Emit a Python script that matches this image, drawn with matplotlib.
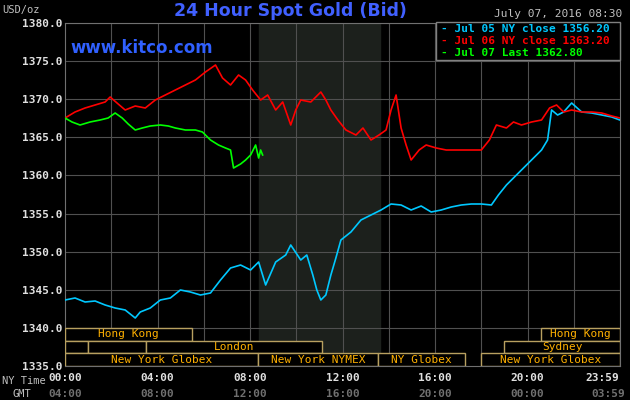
import matplotlib
matplotlib.use("Agg")
import matplotlib.pyplot as plt
from matplotlib.patches import Rectangle

def hx(px): return (px - 65) / 23.05
def vy(py): return 1380 - (py - 23) * 45 / 343

# series (pixel estimates converted to hours / price)
blue_px = [(65,300),(75,298),(85,302),(95,301),(105,305),(115,308),(125,310),(135,318),(140,312),(150,308),(160,300),(170,298),(180,290),(190,292),(200,295),(210,293),(220,280),(230,268),(240,265),(250,270),(258,262),(265,285),(275,262),(285,255),(290,245),(300,260),(306,255),(312,275),(316,290),(320,300),(325,295),(330,275),(335,258),(340,240),(350,232),(360,220),(370,215),(380,210),(390,204),(400,205),(410,210),(420,206),(430,212),(440,210),(450,207),(460,205),(470,204),(480,204),(490,205),(497,195),(505,185),(512,178),(520,170),(530,160),(540,150),(546,140),(550,110),(556,115),(562,112),(570,103),(580,112),(590,113),(600,115),(610,117),(618,120)]
red_px = [(65,118),(75,112),(85,108),(95,105),(105,102),(110,97),(118,104),(125,110),(135,106),(145,108),(155,100),(165,95),(175,90),(185,85),(195,80),(205,72),(215,65),(222,78),(230,85),(238,75),(245,80),(252,90),(260,100),(267,95),(275,110),(282,102),(290,125),(295,110),(300,100),(310,102),(320,92),(325,100),(330,110),(337,120),(345,130),(355,135),(362,128),(370,140),(378,135),(385,130),(390,110),(395,95),(400,128),(405,145),(410,160),(418,150),(425,145),(435,148),(445,150),(455,150),(465,150),(480,150),(488,140),(495,125),(505,128),(512,122),(520,125),(530,122),(540,120),(548,108),(555,105),(562,112),(570,110),(580,112),(590,112),(600,113),(610,116),(618,118)]
green_px = [(65,118),(72,122),(80,125),(90,122),(100,120),(108,118),(115,113),(122,118),(128,124),(135,130),(142,128),(150,126),(160,125),(168,126),(175,128),(185,130),(195,130),(202,132),(210,140),(218,145),(225,148),(230,150),(233,168),(240,164),(245,160),(250,155),(255,145),(258,158),(260,150),(262,155)]

blue_h = [hx(p[0]) for p in blue_px]; blue_v = [vy(p[1]) for p in blue_px]
red_h = [hx(p[0]) for p in red_px]; red_v = [vy(p[1]) for p in red_px]
green_h = [hx(p[0]) for p in green_px]; green_v = [vy(p[1]) for p in green_px]

yticks = [1335 + 5 * i for i in range(10)]
xticks = [0, 4, 8, 12, 16, 20, 23.98]
ny_labels = ["00:00", "04:00", "08:00", "12:00", "16:00", "20:00", "23:59"]
gmt_labels = ["04:00", "08:00", "12:00", "16:00", "20:00", "00:00", "03:59"]

# sessions: (row, start, end, label)
sessions = [(0, 0, 5.5, "Hong Kong"), (0, 20.6, 24, "Hong Kong"),
            (1, 0, 1.0, ""), (1, 1.0, 3.5, ""), (1, 3.5, 11.1, "London"), (1, 19.0, 24, "Sydney"),
            (2, 0, 8.35, "New York Globex"), (2, 8.35, 13.55, "New York NYMEX"),
            (2, 13.55, 17.3, "NY Globex"), (2, 18.0, 24, "New York Globex")]

mono = "DejaVu Sans Mono"
fig = plt.figure(figsize=(6.3, 4.0), dpi=100, facecolor="black")
ax = fig.add_axes([65/630, 34/400, 555/630, 343/400], facecolor="black")
ax.set_xlim(0, 24); ax.set_ylim(1335, 1380)
ax.axvspan(8.4, 13.6, color="#1c201c", zorder=0)
for h in range(2, 24, 2):
    ax.axvline(h, color="#505050", lw=0.8, zorder=1)
for v in yticks[1:]:
    ax.axhline(v, color="#505050", lw=0.8, zorder=1)
ax.plot(blue_h, blue_v, color="#00c8ff", lw=1.2, zorder=3)
ax.plot(red_h, red_v, color="#ff0000", lw=1.2, zorder=3)
ax.plot(green_h, green_v, color="#00ff00", lw=1.2, zorder=4)

rh = 5 / 3
for row, s, e, lab in sessions:
    y0 = 1340 - (row + 1) * rh
    ax.add_patch(Rectangle((s, y0), e - s, rh, facecolor="black", edgecolor="#b8a060", lw=1, zorder=5))
    if lab:
        ax.text((s + e) / 2, y0 + rh / 2, lab, color="#ffb000", ha="center", va="center",
                fontsize=8, family=mono, zorder=6)

for sp in ax.spines.values():
    sp.set_color("#707070")
ax.set_yticks(yticks)
ax.set_yticklabels([f"{v:.1f}" for v in yticks], color="#e0e0e0", fontsize=8, family=mono, fontweight="bold")
ax.set_xticks(xticks)
ax.set_xticklabels(ny_labels, color="#e0e0e0", fontsize=8, family=mono, fontweight="bold")
ax.get_xticklabels()[-1].set_ha("right")
ax.get_xticklabels()[-1].set_x(24.2)
ax.tick_params(axis="x", length=0, pad=5)
ax.tick_params(axis="y", length=0, pad=2)
for i, l in enumerate(gmt_labels):
    x = xticks[i]
    ha = "center"
    if i == len(gmt_labels) - 1:
        x, ha = 24.2, "right"
    ax.text(x, -0.068, l, transform=ax.get_xaxis_transform(), ha=ha, va="top",
            color="#707070", fontsize=8, family=mono, fontweight="bold")
fig.text(2/630, 1-381/400, "NY Time", color="#c0c0c0", fontsize=7.5, family=mono, va="center")
fig.text(12/630, 1-394/400, "GMT", color="#c0c0c0", fontsize=7.5, family=mono, va="center")
fig.text(2/630, 1-10/400, "USD/oz", color="#c0c0c0", fontsize=7.5, family=mono, va="center")
fig.text(290/630, 1-11/400, "24 Hour Spot Gold (Bid)", color="#4060ff", fontsize=12.5, fontweight="bold", ha="center", va="center")
fig.text(70/630, 1-48/400, "www.kitco.com", color="#3060ff", fontsize=12, fontweight="bold", va="center")
fig.text(622/630, 1-14/400, "July 07, 2016 08:30", color="#c0c0c0", fontsize=8, family=mono, ha="right", va="center")
fig.patches.append(Rectangle((436/630, 1-60/400), 184/630, 38/400, transform=fig.transFigure,
                             facecolor="black", edgecolor="#808080", lw=1))
leg = [("- Jul 05 NY close 1356.20", "#00c8ff"), ("- Jul 06 NY close 1363.20", "#ff0000"), ("- Jul 07 Last 1362.80", "#00ff00")]
for i, (t, c) in enumerate(leg):
    fig.text(441/630, 1-(29 + 12*i)/400, t, color=c, fontsize=8, family=mono, fontweight="bold", va="center")
fig.savefig("out.png", dpi=100, facecolor="black")
